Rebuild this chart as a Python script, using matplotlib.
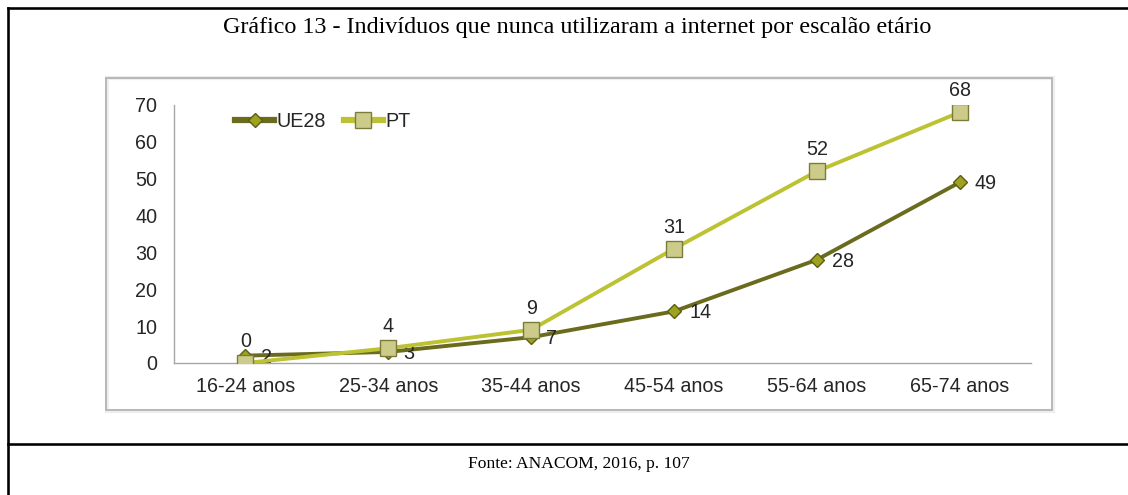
import matplotlib
matplotlib.use("Agg")
import matplotlib.pyplot as plt
from matplotlib.patches import Rectangle
from matplotlib.lines import Line2D

categories = ["16-24 anos", "25-34 anos", "35-44 anos", "45-54 anos", "55-64 anos", "65-74 anos"]
ue28 = [2, 3, 7, 14, 28, 49]
pt = [0, 4, 9, 31, 52, 68]
yticks = [0, 10, 20, 30, 40, 50, 60, 70]
title = "Gráfico 13 - Indivíduos que nunca utilizaram a internet por escalão etário"
source = "Fonte: ANACOM, 2016, p. 107"

W, H = 1128, 495
fig = plt.figure(figsize=(W / 100, H / 100), dpi=100)

def fx(px):
    return px / W

def fy(py):
    return 1 - py / H

# outer frame lines
lw_frame = 2.6 * 72 / 100
fig.add_artist(Line2D([fx(8), 1.0], [fy(8), fy(8)], color="black", lw=lw_frame))
fig.add_artist(Line2D([fx(8), fx(8)], [fy(8), 0.0], color="black", lw=lw_frame))
fig.add_artist(Line2D([fx(8), 1.0], [fy(444), fy(444)], color="black", lw=lw_frame))

# inner chart box
fig.add_artist(Rectangle((fx(107), fy(411)), fx(1053) - fx(107), fy(78) - fy(411),
                         fill=False, edgecolor="#eeeeee", lw=3.0))
fig.add_artist(Rectangle((fx(106), fy(410)), fx(1052) - fx(106), fy(78) - fy(410),
                         fill=False, edgecolor="#b4b4b4", lw=1.3))

fig.text(fx(577), fy(28), title, ha="center", va="center",
         family="Liberation Serif", fontsize=17.4, color="black")
fig.text(fx(579), fy(464), source, ha="center", va="center",
         family="Liberation Serif", fontsize=12.6, color="black")

ax = fig.add_axes([fx(174), fy(363), fx(1031) - fx(174), fy(105) - fy(363)])
x = list(range(len(categories)))

ue_line = "#6b6b1e"
pt_line = "#bcc232"
ax.plot(x, ue28, color=ue_line, lw=2.8, marker="D", ms=7.5,
        markerfacecolor="#9da21f", markeredgecolor="#5c5c14", markeredgewidth=1.0,
        label="UE28", zorder=3)
ax.plot(x, pt, color=pt_line, lw=2.8, marker="s", ms=11,
        markerfacecolor="#cccb8a", markeredgecolor="#7b7b3a", markeredgewidth=1.0,
        label="PT", zorder=4)

fs = 14.2
tf = dict(family="Liberation Sans", fontsize=fs, color="#262626")
for xi, v in zip(x, pt):
    ax.annotate(str(v), (xi, v), xytext=(0, 15.5), textcoords="offset points",
                ha="center", va="center", **tf)
for xi, v in zip(x, ue28):
    ax.annotate(str(v), (xi, v), xytext=(11, -1), textcoords="offset points",
                ha="left", va="center", **tf)

ax.set_xlim(-0.5, len(categories) - 0.5)
ax.set_ylim(0, 70)
ax.set_yticks(yticks)
ax.set_xticks(x)
ax.set_xticklabels(categories)
ax.tick_params(axis="both", length=0, labelsize=fs, labelcolor="#262626")
ax.tick_params(axis="y", pad=12)
ax.tick_params(axis="x", pad=10)
for lab in ax.get_xticklabels() + ax.get_yticklabels():
    lab.set_family("Liberation Sans")
for s in ["top", "right"]:
    ax.spines[s].set_visible(False)
for s in ["left", "bottom"]:
    ax.spines[s].set_color("#a6a6a6")
    ax.spines[s].set_linewidth(1.0)
ax.patch.set_visible(False)

leg = ax.legend(loc="center left", bbox_to_anchor=(0.062, 0.935), ncol=2, frameon=False,
                prop={"family": "Liberation Sans", "size": fs}, handlelength=2.0,
                handletextpad=0.1, columnspacing=0.9, borderaxespad=0)
for h in leg.legend_handles:
    h.set_linewidth(4.5)
for t in leg.get_texts():
    t.set_color("#262626")

fig.savefig("out.png", dpi=100)
